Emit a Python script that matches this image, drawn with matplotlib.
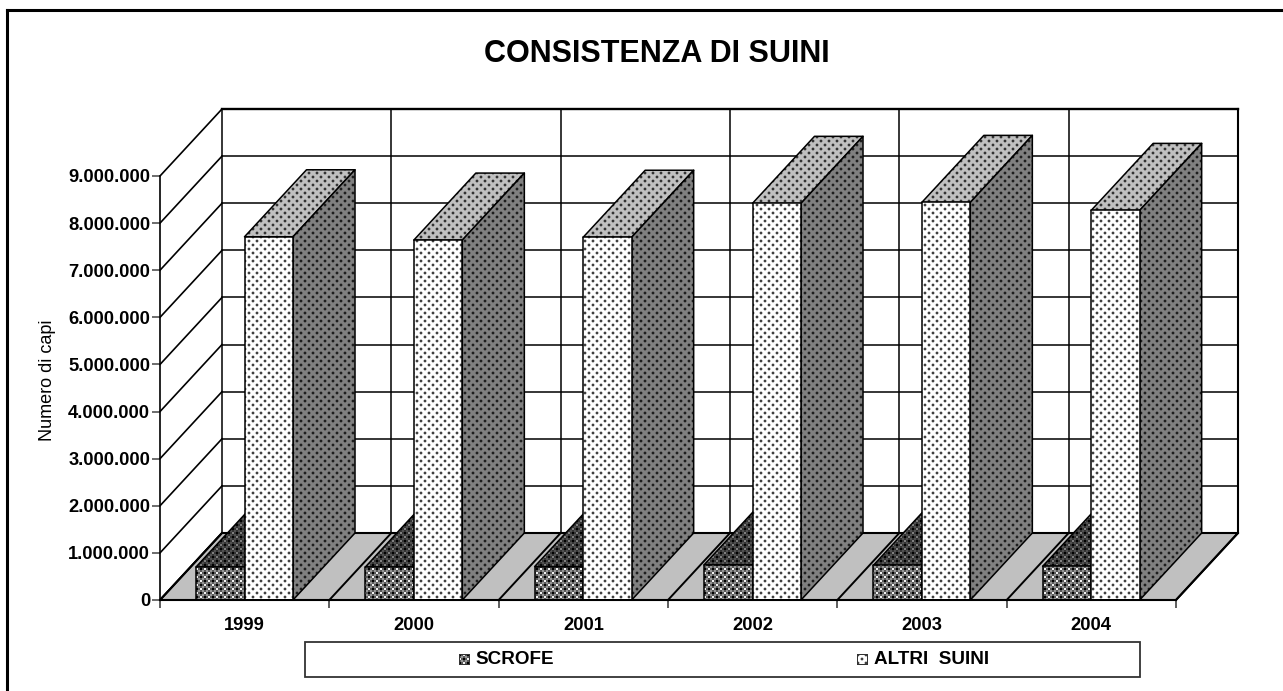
import numpy as np
import matplotlib
matplotlib.use("Agg")
import matplotlib.pyplot as plt
from matplotlib.lines import Line2D
from matplotlib.patches import Polygon, Rectangle
from matplotlib.transforms import IdentityTransform

plt.rcParams['font.family'] = ['Liberation Sans', 'DejaVu Sans']

years = ['1999', '2000', '2001', '2002', '2003', '2004']
scrofe = [700000, 700000, 710000, 745000, 735000, 715000]
altri_suini = [7710000, 7640000, 7700000, 8420000, 8440000, 8270000]
y_ticks = [0, 1000000, 2000000, 3000000, 4000000, 5000000, 6000000, 7000000, 8000000, 9000000]

W, H = 1283, 691
DPI = 100
BAR_W = 48.5 / 169.33
DX = 62 / 169.33
DY = 67 / 47.11 * 1000000

fig = plt.figure(figsize=(W / DPI, H / DPI), dpi=DPI, facecolor='white')
ax = fig.add_axes([160 / W, (H - 600) / H, 1016 / W, 424 / H])
ax.patch.set_visible(False)


def dots(base, dot=0.2):
    t = np.full((8, 8), base, dtype=float)
    halo = base * 0.72 + dot * 0.28
    for r, c in [(0, 0), (4, 4)]:
        t[r:r + 2, c:c + 2] = dot
        for rr, cc in [(r - 1, c), (r - 1, c + 1), (r + 2, c), (r + 2, c + 1),
                       (r, c - 1), (r + 1, c - 1), (r, c + 2), (r + 1, c + 2)]:
            t[rr % 8, cc % 8] = halo
    return t


def lattice(dark, mid, light):
    t = np.full((8, 8), mid, dtype=float)
    for r, c in [(0, 0), (4, 4)]:
        t[r:r + 2, c:c + 2] = dark
    for r, c in [(0, 4), (4, 0)]:
        t[r:r + 2, c:c + 2] = light
    for r, c in [(2, 2), (2, 6), (6, 2), (6, 6)]:
        t[r:r + 2, c:c + 2] = mid * 0.6 + light * 0.4
    return t


def texture(tile):
    rows = np.tile(tile, (H // 8 + 1, W // 8 + 1))
    return rows[:H, :W]


TEX = {
    'alt_front': texture(dots(1.0, 0.25)),
    'alt_top': texture(dots(0.75, 0.2)),
    'alt_side': texture(dots(0.5, 0.12)),
    'scr_front': texture(lattice(0.0, 0.35, 0.95)),
    'scr_top': texture(lattice(0.0, 0.2, 0.5)),
}


def face(corners, tex, z):
    poly = Polygon(corners, closed=True, facecolor='none', edgecolor='black',
                   linewidth=1.1, zorder=z + 0.05, clip_on=False, joinstyle='round')
    ax.add_patch(poly)
    im = ax.imshow(TEX[tex], cmap='gray', vmin=0, vmax=1, extent=(0, W, 0, H),
                   transform=IdentityTransform(), interpolation='nearest',
                   aspect='auto', zorder=z, origin='upper')
    im.set_clip_box(fig.bbox)
    im.set_clip_path(poly)


def bar3d(x0, value, tex_front, tex_top, tex_side, z):
    x1 = x0 + BAR_W
    face([(x0, value), (x1, value), (x1 + DX, value + DY), (x0 + DX, value + DY)], tex_top, z)
    if tex_side:
        face([(x1, 0), (x1 + DX, DY), (x1 + DX, value + DY), (x1, value)], tex_side, z + 0.1)
    face([(x0, 0), (x1, 0), (x1, value), (x0, value)], tex_front, z + 0.2)


n = len(years)
ymax = y_ticks[-1]

# pareti dietro
for v in y_ticks:
    ax.plot([DX, n + DX], [v + DY, v + DY], color='black', lw=1.1, zorder=1, clip_on=False)
    ax.plot([0, DX], [v, v + DY], color='black', lw=1.2, zorder=1, clip_on=False)
for k in range(n + 1):
    ax.plot([k + DX, k + DX], [DY, ymax + DY], color='black', lw=1.1, zorder=1, clip_on=False)
ax.plot([DX, n + DX], [ymax + DY, ymax + DY], color='black', lw=1.7, zorder=1.2, clip_on=False)
ax.plot([n + DX, n + DX], [DY, ymax + DY], color='black', lw=1.5, zorder=1.2, clip_on=False)

# pavimento
ax.add_patch(Polygon([(0, 0), (n, 0), (n + DX, DY), (DX, DY)], closed=True, facecolor='#c0c0c0',
                     edgecolor='black', linewidth=1.5, zorder=2, clip_on=False))
for k in range(n + 1):
    ax.plot([k, k + DX], [0, DY], color='black', lw=1.4, zorder=2.2, clip_on=False)

for i in range(n):
    bar3d(i + 36 / 169.33, scrofe[i], 'scr_front', 'scr_top', None, 3 + i)
    bar3d(i + 36 / 169.33 + BAR_W, altri_suini[i], 'alt_front', 'alt_top', 'alt_side', 3.4 + i)

ax.set_xlim(0, n)
ax.set_ylim(0, ymax)
for s in ['top', 'right']:
    ax.spines[s].set_visible(False)
ax.spines['left'].set_linewidth(1.2)
ax.spines['bottom'].set_linewidth(1.4)
ax.spines['left'].set_zorder(20)
ax.spines['bottom'].set_zorder(20)

ax.set_yticks(y_ticks)
ax.set_yticklabels(['{:,}'.format(v).replace(',', '.') for v in y_ticks],
                   fontsize=13.2, fontweight='bold')
ax.tick_params(axis='y', length=5.5, width=1.1, color='#444444', pad=1.6)
ax.set_xticks(range(n + 1))
ax.set_xticklabels([])
ax.set_xticks(np.arange(n) + 0.5, labels=years, minor=True, fontsize=13.2, fontweight='bold')
ax.tick_params(axis='x', which='major', length=6, width=1.1, color='#333333')
ax.tick_params(axis='x', which='minor', length=0, pad=12)
ax.set_ylabel('')
fig.text(48 / W, 1 - 380 / H, 'Numero di capi', fontsize=13, rotation=90, ha='center', va='center')

fig.text(657 / W, 1 - 54 / H, 'CONSISTENZA DI SUINI', fontsize=22, fontweight='bold',
         ha='center', va='center')

# cornice
fig.add_artist(Line2D([7 / W, 7 / W], [0, 1 - 9.5 / H], color='black', lw=2.2))
fig.add_artist(Line2D([7 / W, 1], [1 - 9.5 / H, 1 - 9.5 / H], color='black', lw=2.2))

# legenda
fig.add_artist(Rectangle((305 / W, 1 - 677 / H), 835 / W, 35 / H, facecolor='white', edgecolor='#333333', lw=1.3))
for x_sw, x_tx, tile, label in [(459, 475, lattice(0.0, 0.35, 0.95), 'SCROFE'),
                                (857, 874, dots(1.0, 0.25), 'ALTRI  SUINI')]:
    swatch = np.tile(tile, (2, 2))[:11, :11]
    swatch[[0, -1], :] = 0.2
    swatch[:, [0, -1]] = 0.2
    fig.figimage(swatch, x_sw, H - 665, cmap='gray', vmin=0, vmax=1, origin='upper', zorder=5)
    fig.text(x_tx / W, 1 - 659 / H, label, fontsize=13.6, fontweight='bold', va='center', ha='left')

fig.savefig('out.png', dpi=DPI)
